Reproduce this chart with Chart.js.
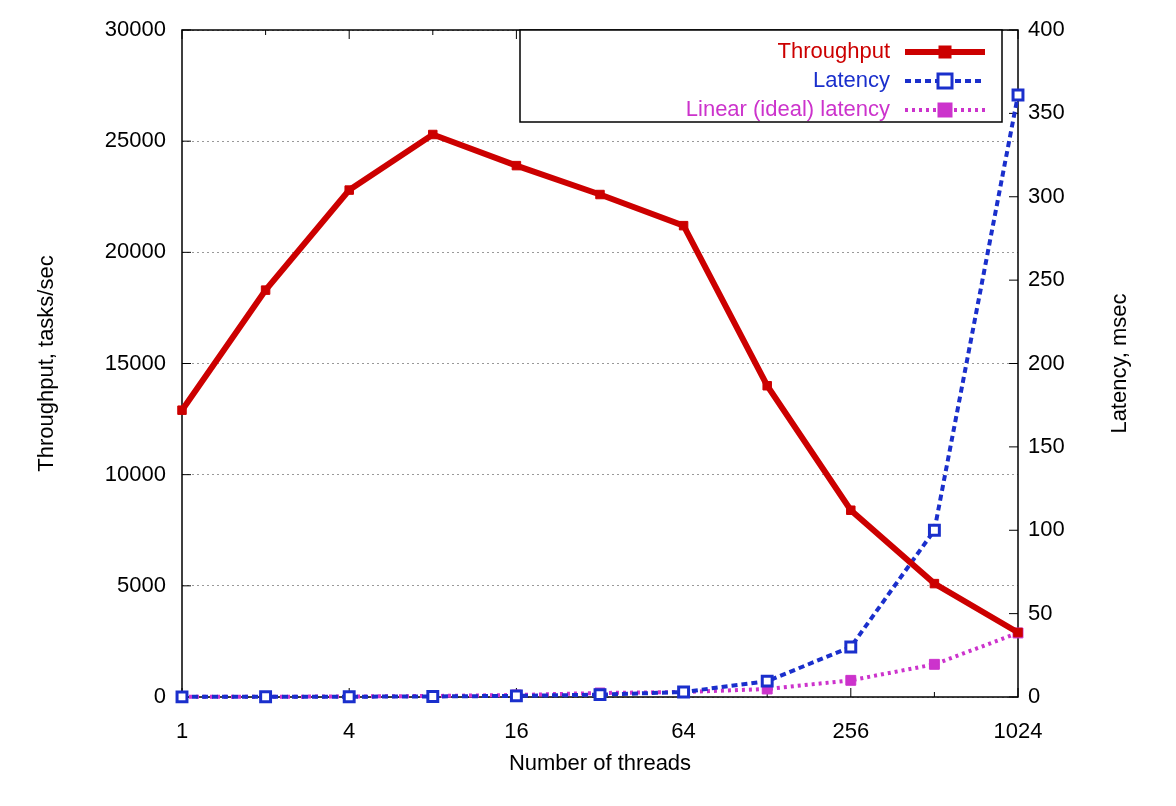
<!DOCTYPE html>
<html><head><meta charset="utf-8">
<script src="https://cdn.jsdelivr.net/npm/chart.js@4"></script>
<style>html,body{margin:0;padding:0;background:#fff}#w{width:1176px;height:806px}</style>
</head><body><div id="w"><canvas id="c"></canvas></div>
<script>
const threads=[1,2,4,8,16,32,64,128,256,512,1024];
const throughput=[12900,18300,22800,25300,23900,22600,21200,14000,8400,5100,2900];
const latency=[0.08,0.11,0.18,0.32,0.67,1.4,3,9.5,30,100,361];
const idealLatency=[0.08,0.15,0.3,0.6,1.2,2.4,3,4.8,10,19.6,38.4];
const xTicks=[1,4,16,64,256,1024];
const F='"Liberation Sans", Arial, sans-serif';
const xs=threads.map(Math.log2);
const mk=(v)=>v.map((y,i)=>({x:xs[i],y}));
const boxPlugin={id:'box',
beforeDatasetsDraw(ch){const c=ch.ctx,a=ch.chartArea;c.save();c.strokeStyle='#000';c.lineWidth=1.5;c.strokeRect(a.left,a.top,a.right-a.left,a.bottom-a.top);
c.lineWidth=1;c.beginPath();
ch.scales.y.ticks.forEach(t=>{const y=ch.scales.y.getPixelForValue(t.value);c.moveTo(a.left,y);c.lineTo(a.left+9,y);});
ch.scales.y1.ticks.forEach(t=>{const y=ch.scales.y1.getPixelForValue(t.value);c.moveTo(a.right,y);c.lineTo(a.right-9,y);});
for(let v=0;v<=10;v++){const x=ch.scales.x.getPixelForValue(v);const l=v%2==0?9:5;c.moveTo(x,a.bottom);c.lineTo(x,a.bottom-l);c.moveTo(x,a.top);c.lineTo(x,a.top+l);}
c.stroke();
c.translate(1120,(a.top+a.bottom)/2);c.rotate(-Math.PI/2);c.fillStyle='#000';c.font='22px '+F;c.textAlign='center';c.textBaseline='middle';c.fillText('Latency, msec',0,0);
c.restore();},
afterDraw(ch){const c=ch.ctx,a=ch.chartArea;c.save();
const L=520,T=a.top,R=1002,B=122;c.fillStyle='#fff';c.fillRect(L,T,R-L,B-T);c.strokeStyle='#000';c.lineWidth=1.5;c.strokeRect(L,T,R-L,B-T);
c.font='22px '+F;c.textAlign='right';c.textBaseline='middle';
ch.data.datasets.forEach((d,i)=>{const y=52+i*29;c.fillStyle=d.borderColor;c.fillText(d.label,890,y);
c.strokeStyle=d.borderColor;c.lineWidth=d.borderWidth;c.setLineDash(d.borderDash||[]);c.beginPath();c.moveTo(905,y);c.lineTo(985,y);c.stroke();c.setLineDash([]);
const s=d.pointRadius;c.fillStyle=d.pointBackgroundColor;c.fillRect(945-s,y-s,2*s,2*s);c.lineWidth=d.pointBorderWidth;c.strokeStyle=d.pointBorderColor;c.strokeRect(945-s,y-s,2*s,2*s);});
c.restore();}};
new Chart(document.getElementById('c'),{type:'line',
data:{datasets:[
{label:'Throughput',data:mk(throughput),yAxisID:'y',borderColor:'#cc0000',borderWidth:6,pointStyle:'rect',pointRadius:6,pointBackgroundColor:'#cc0000',pointBorderColor:'#cc0000',pointBorderWidth:1,order:1,clip:false},
{label:'Latency',data:mk(latency),yAxisID:'y1',borderColor:'#1a2fcc',borderWidth:4,borderDash:[6,4],pointStyle:'rect',pointRadius:7,pointBackgroundColor:'#fff',pointBorderColor:'#1a2fcc',pointBorderWidth:3,order:2,clip:false},
{label:'Linear (ideal) latency',data:mk(idealLatency),yAxisID:'y1',borderColor:'#cc33cc',borderWidth:4,borderDash:[3,4],pointStyle:'rect',pointRadius:7,pointBackgroundColor:'#cc33cc',pointBorderColor:'#cc33cc',pointBorderWidth:1,order:3,clip:false}
]},
options:{responsive:true,maintainAspectRatio:false,animation:false,
layout:{padding:{left:30,right:40,top:30,bottom:25}},
plugins:{legend:{display:false},tooltip:{enabled:false}},
scales:{
x:{type:'linear',min:0,max:10,afterFit(s){s.height=84;},
afterBuildTicks(s){s.ticks=xTicks.map(v=>({value:Math.log2(v)}));},
ticks:{callback:v=>String(Math.round(Math.pow(2,v))),color:'#000',font:{family:F,size:22},maxRotation:0,autoSkip:false,padding:14},
grid:{display:false},border:{display:false},
title:{display:true,text:'Number of threads',color:'#000',font:{family:F,size:22}}},
y:{position:'left',min:0,max:30000,afterFit(s){s.width=152;},
ticks:{stepSize:5000,color:'#000',font:{family:F,size:22},padding:16,callback:v=>String(v)},
grid:{color:'#999',drawTicks:false,lineWidth:1},border:{display:false,dash:[2,3]},
title:{display:true,text:'Throughput, tasks/sec',color:'#000',font:{family:F,size:22}}},
y1:{position:'right',min:0,max:400,afterFit(s){s.width=118;},
ticks:{stepSize:50,color:'#000',font:{family:F,size:22},padding:10,callback:v=>String(v)},
grid:{display:false,drawTicks:false},border:{display:false},
title:{display:false}}
}},
plugins:[boxPlugin]});
</script></body></html>
